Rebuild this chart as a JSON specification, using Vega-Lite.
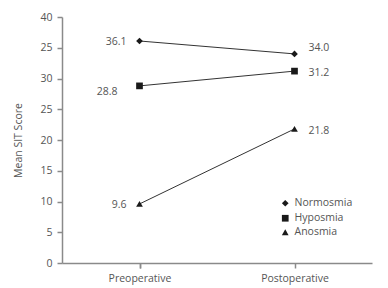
{
  "$schema": "https://vega.github.io/schema/vega-lite/v6.json",
  "width": 310,
  "height": 246,
  "autosize": {"type": "none"},
  "padding": {"left": 62, "top": 17, "right": 16, "bottom": 25},
  "background": "white",
  "config": {
    "view": {"stroke": null},
    "font": "Open Sans",
    "axis": {
      "domainColor": "#8a8a8a", "domainWidth": 1.5, "tickColor": "#8a8a8a", "tickWidth": 1.5,
      "labelColor": "#555555", "labelFontSize": 10.5, "labelFont": "Open Sans",
      "titleColor": "#555555", "titleFontSize": 10.5, "titleFontWeight": "normal", "titleFont": "Open Sans",
      "grid": false
    }
  },
  "data": {
    "values": [
      {"group": "Normosmia", "time": "Preoperative", "score": 36.1},
      {"group": "Normosmia", "time": "Postoperative", "score": 34.0},
      {"group": "Hyposmia", "time": "Preoperative", "score": 28.8},
      {"group": "Hyposmia", "time": "Postoperative", "score": 31.2},
      {"group": "Anosmia", "time": "Preoperative", "score": 9.6},
      {"group": "Anosmia", "time": "Postoperative", "score": 21.8}
    ]
  },
  "encoding": {
    "x": {
      "field": "time", "type": "nominal", "sort": ["Preoperative", "Postoperative"],
      "scale": {"paddingInner": 0, "paddingOuter": 0},
      "axis": {"title": null, "labelAngle": 0, "bandPosition": 1, "tickExtra": true, "tickSize": 5, "labelPadding": 5}
    },
    "y": {
      "field": "score", "type": "quantitative",
      "scale": {"domain": [0, 40], "nice": false},
      "axis": {
        "title": "Mean SIT Score", "values": [0, 5, 10, 15, 20, 25, 30, 35, 40],
        "labelExpr": "datum.value == 35 ? '25' : datum.label",
        "tickSize": 5, "labelPadding": 5, "titlePadding": 16
      }
    }
  },
  "layer": [
    {
      "mark": {"type": "line", "color": "#333333", "strokeWidth": 1},
      "encoding": {"detail": {"field": "group"}}
    },
    {
      "mark": {"type": "point", "filled": true, "color": "#1a1a1a", "opacity": 1, "size": 45},
      "encoding": {
        "shape": {
          "field": "group", "type": "nominal",
          "scale": {"domain": ["Normosmia", "Hyposmia", "Anosmia"], "range": ["diamond", "square", "triangle-up"]},
          "legend": {
            "title": null, "orient": "none", "legendX": 218, "legendY": 181,
            "labelFontSize": 10.5, "labelColor": "#555555", "labelFont": "Open Sans",
            "symbolSize": 45, "rowPadding": 1, "symbolFillColor": "#1a1a1a", "symbolStrokeColor": "#1a1a1a"
          }
        }
      }
    },
    {
      "transform": [{"filter": "datum.time == 'Preoperative' && datum.group != 'Hyposmia'"}],
      "mark": {"type": "text", "align": "right", "baseline": "middle", "dx": -13, "dy": 1, "fontSize": 10.5, "color": "#555555"},
      "encoding": {"text": {"field": "score", "format": ".1f"}}
    },
    {
      "transform": [{"filter": "datum.time == 'Preoperative' && datum.group == 'Hyposmia'"}],
      "mark": {"type": "text", "align": "right", "baseline": "middle", "dx": -22, "dy": 6, "fontSize": 10.5, "color": "#555555"},
      "encoding": {"text": {"field": "score", "format": ".1f"}}
    },
    {
      "transform": [{"filter": "datum.time == 'Postoperative' && datum.group == 'Normosmia'"}],
      "mark": {"type": "text", "align": "left", "baseline": "middle", "dx": 14, "dy": -6, "fontSize": 10.5, "color": "#555555"},
      "encoding": {"text": {"field": "score", "format": ".1f"}}
    },
    {
      "transform": [{"filter": "datum.time == 'Postoperative' && datum.group != 'Normosmia'"}],
      "mark": {"type": "text", "align": "left", "baseline": "middle", "dx": 14, "dy": 2, "fontSize": 10.5, "color": "#555555"},
      "encoding": {"text": {"field": "score", "format": ".1f"}}
    }
  ]
}
